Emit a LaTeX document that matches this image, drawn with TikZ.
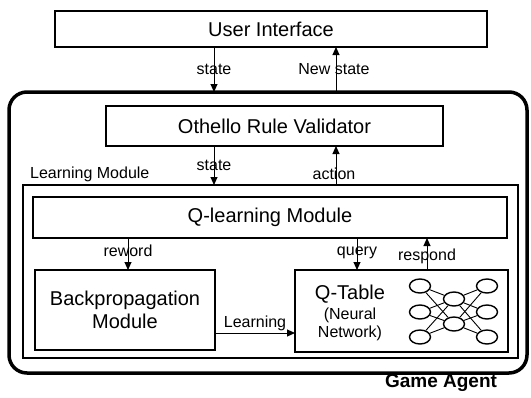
\documentclass[tikz,border=0pt]{standalone}
\usepackage{fontspec}
\setmainfont{Liberation Sans}
\usetikzlibrary{arrows.meta,shapes.geometric}

\tikzset{
  box/.style={draw, line width=1.4pt, inner sep=0pt, outer sep=0pt},
  big/.style={font=\fontsize{20}{23}\selectfont, align=center},
  lbl/.style={font=\fontsize{16}{18}\selectfont, inner sep=0pt},
  arr/.style={line width=1pt, -{Triangle[length=8pt,width=7pt]}},
  neuron/.style={draw, ellipse, line width=1.4pt, minimum width=21pt, minimum height=14pt, inner sep=0pt},
}

\begin{document}
\begin{tikzpicture}[x=1pt,y=-1pt]
    \useasboundingbox (0,0) rectangle (531,397);

    % Outer frame of the game agent
    \node[box, line width=3.5pt, rounded corners=18pt, minimum width=518pt, minimum height=281pt] (agent) at (268,232.5) {};
    \node[font=\fontsize{19}{21}\selectfont\bfseries] (ga) at (441,383) {Game Agent};

    % Boxes
    \node[box, big, minimum width=432pt, minimum height=36pt] (ui) at (271,29) {User Interface};
    \node[box, big, minimum width=337pt, minimum height=40pt] (orv) at (274.5,126) {Othello Rule Validator};
    \node[box, minimum width=495pt, minimum height=173pt] (lm) at (270.5,271.5) {};
    \node[lbl, anchor=west] (lmt) at (30,174) {Learning Module};
    \node[box, big, minimum width=474pt, minimum height=41pt] (ql) at (270,217.5) {Q-learning Module};
    \node[box, big, minimum width=180pt, minimum height=80pt] (bp) at (125,310) {Backpropagation\\Module};
    \node[box, minimum width=213pt, minimum height=82pt] (qt) at (401.5,311) {};
    \node[big] (qtt) at (350,294) {Q-Table};
    \node[lbl, align=center, font=\fontsize{16}{18}\selectfont] (qtn) at (350,324) {(Neural\\Network)};

    % x positions of the vertical arrows
    \coordinate (xs) at (214,0);
    \coordinate (xa) at (336,0);
    \coordinate (xr) at (128,0);
    \coordinate (xq) at (357,0);
    \coordinate (xp) at (427,0);
    \coordinate (yl) at (0,333);

    % Arrows between the boxes
    \draw[arr] (ui.south -| xs) -- (agent.north -| xs) node[lbl, midway] {state};
    \draw[arr] (agent.north -| xa) -- (ui.south -| xa) node[lbl, midway, xshift=-2pt] {New state};
    \draw[arr] (orv.south -| xs) -- (lm.north -| xs) node[lbl, midway] {state};
    \draw[arr] (lm.north -| xa) -- (orv.south -| xa) node[lbl, pos=0.3, xshift=-2pt] {action};
    \draw[arr] (ql.south -| xr) -- (bp.north -| xr) node[lbl, pos=0.4] {reword};
    \draw[arr] (ql.south -| xq) -- (qt.north -| xq) node[lbl, pos=0.47] {query};
    \draw[arr] (qt.north -| xp) -- (ql.south -| xp) node[lbl, pos=0.44] {respond};
    \draw[arr] (bp.east |- yl) -- (qt.west |- yl) node[lbl, midway, yshift=10pt] {Learning};

    % Small neural network
    \foreach \i/\y in {1/286,2/312,3/337} {
        \node[neuron] (l\i) at (420,\y) {};
        \node[neuron] (r\i) at (487,\y) {};
    }
    \foreach \i/\y in {1/299,2/324} {
        \node[neuron] (m\i) at (454,\y) {};
    }
    \foreach \a in {1,2,3} {
        \foreach \b in {1,2} {
            \draw[line width=0.9pt] (l\a) -- (m\b);
            \draw[line width=0.9pt] (m\b) -- (r\a);
        }
    }

\end{tikzpicture}
\end{document}
